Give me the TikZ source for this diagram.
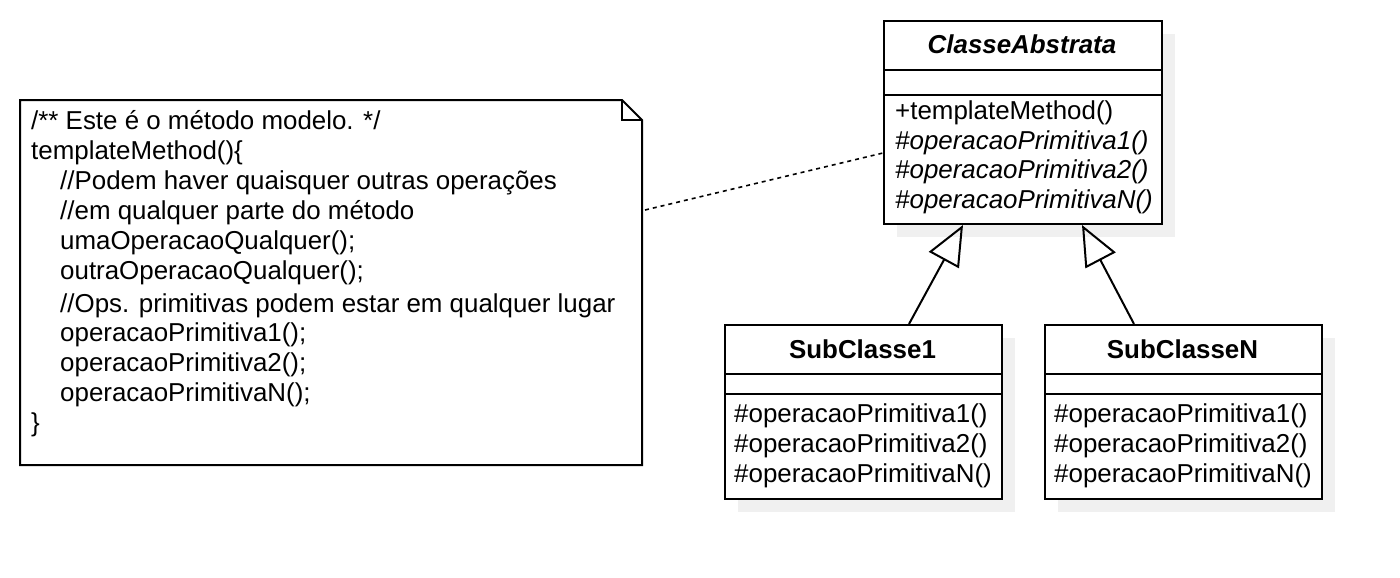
\documentclass[tikz,border=0pt]{standalone}
\usepackage{fontspec}
\setmainfont{Liberation Sans}
\usetikzlibrary{arrows.meta}
\tikzset{
  box/.style={draw=black, line width=2pt, fill=white},
  shadow/.style={fill=black!6, draw=none},
  txt/.style={inner sep=0pt, anchor=base west, font=\fontsize{25.9}{30}\selectfont},
  head/.style={inner sep=0pt, anchor=base, font=\fontsize{25.9}{30}\selectfont\bfseries},
  inherit/.style={line width=2pt, -{Triangle[open, length=40pt, width=34pt, line width=2pt]}},
  notelink/.style={line width=1.6pt, dash pattern=on 4pt off 4pt}
}
\begin{document}
\begin{tikzpicture}[x=1pt,y=-1pt]
\useasboundingbox (0,0) rectangle (1400,578);
% shadows
\fill[shadow] (897,34) rectangle (1175,237);
\fill[shadow] (738,338) rectangle (1015,512);
\fill[shadow] (1058,338) rectangle (1335,512);
% note
\draw[line width=2pt, fill=white, line join=miter] (20,100) -- (622,100) -- (642,120) -- (642,465) -- (20,465) -- cycle;
\draw[line width=2pt] (622,100) -- (622,120) -- (642,120);
\coordinate (noteend) at (645,210);
\node[txt] (n1) at (31,129) {/** Este é o método modelo. */};
\node[txt] (n2) at (31,159) {templateMethod()\{};
\node[txt] (n3) at (60,189) {//Podem haver quaisquer outras operações};
\node[txt] (n4) at (60,219) {//em qualquer parte do método};
\node[txt] (n5) at (60,249) {umaOperacaoQualquer();};
\node[txt] (n6) at (60,279) {outraOperacaoQualquer();};
\node[txt] (n7) at (60,312) {//Ops. primitivas podem estar em qualquer lugar};
\node[txt] (n8) at (60,341) {operacaoPrimitiva1();};
\node[txt] (n9) at (60,371) {operacaoPrimitiva2();};
\node[txt] (n10) at (60,401) {operacaoPrimitivaN();};
\node[txt] (n11) at (31,431) {\}};
% abstract class
\node[box, minimum width=278pt, minimum height=203pt, anchor=north west, inner sep=0pt] (ca) at (883,20) {};
\draw[line width=2pt] (883,70) -- (1161,70);
\draw[line width=2pt] (883,95) -- (1161,95);
\node[head] (cat) at (1022,54) {\itshape ClasseAbstrata};
\node[txt] (ca1) at (895,119) {+templateMethod()};
\node[txt] (ca2) at (895,149) {\itshape \#operacaoPrimitiva1()};
\node[txt] (ca3) at (895,178.5) {\itshape \#operacaoPrimitiva2()};
\node[txt] (ca4) at (895,208) {\itshape \#operacaoPrimitivaN()};
% sub classes
\node[box, minimum width=277pt, minimum height=174pt, anchor=north west, inner sep=0pt] (s1) at (724,324) {};
\draw[line width=2pt] (724,374) -- (1001,374);
\draw[line width=2pt] (724,394) -- (1001,394);
\node[head] (s1t) at (862.5,358) {SubClasse1};
\node[txt] (s1a) at (734,422) {\#operacaoPrimitiva1()};
\node[txt] (s1b) at (734,452) {\#operacaoPrimitiva2()};
\node[txt] (s1c) at (734,482) {\#operacaoPrimitivaN()};
\node[box, minimum width=277pt, minimum height=174pt, anchor=north west, inner sep=0pt] (sn) at (1044,324) {};
\draw[line width=2pt] (1044,374) -- (1321,374);
\draw[line width=2pt] (1044,394) -- (1321,394);
\node[head] (snt) at (1182.5,358) {SubClasseN};
\node[txt] (sna) at (1054,422) {\#operacaoPrimitiva1()};
\node[txt] (snb) at (1054,452) {\#operacaoPrimitiva2()};
\node[txt] (snc) at (1054,482) {\#operacaoPrimitivaN()};
% connectors
\draw[notelink] (noteend) -- (ca.west |- 0,153);
\draw[inherit] (s1.north -| 909,0) -- (ca.south -| 963,0);
\draw[inherit] (sn.north -| 1134,0) -- (ca.south -| 1082,0);
\end{tikzpicture}
\end{document}
